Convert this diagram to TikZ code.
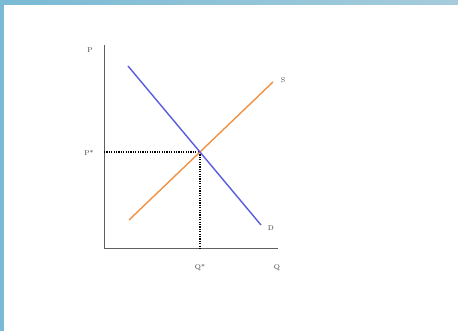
\documentclass[tikz,border=0pt]{standalone}
\usetikzlibrary{calc}
\definecolor{frameL}{RGB}{122,186,212}
\definecolor{frameR}{RGB}{166,204,220}
\definecolor{dcurve}{RGB}{92,92,222}
\definecolor{scurve}{RGB}{240,146,70}
\definecolor{axiscol}{RGB}{95,95,95}
\definecolor{labcol}{RGB}{60,60,60}
\tikzset{
  axisline/.style={draw=axiscol, line width=1pt},
  curveline/.style={line width=1.4pt},
  guide/.style={draw=black, line width=1.3pt, dash pattern=on 1.2pt off 1.2pt},
  lab/.style={text=labcol, font=\fontsize{7}{8}\selectfont, inner sep=0pt}
}
\begin{document}
\begin{tikzpicture}[x=1pt,y=-1pt]
\useasboundingbox (0,0) rectangle (458,331);
\fill[white] (0,0) rectangle (458,331);
\shade[left color=frameL, right color=frameR] (0,0) rectangle (458,5);
\fill[frameL] (0,0) rectangle (4,331);
% axes
\coordinate (O) at (104,249);
\coordinate (Ytop) at (104,45);
\coordinate (Xend) at (278,249);
\draw[axisline] (Ytop) -- (O) -- (Xend);
% curves
\coordinate (D1) at (128,66);
\coordinate (D2) at (261,225);
\coordinate (S1) at (129,220);
\coordinate (S2) at (273,82);
\coordinate (E) at (intersection of D1--D2 and S1--S2);
\coordinate (Py) at (O |- E);
\coordinate (Qx) at (E |- O);
\draw[guide] (Py) -- (E) -- (Qx);
\draw[curveline, scurve] (S1) -- (S2);
\draw[curveline, dcurve] (D1) -- (D2);
% labels
\node[lab] (lP) at (90,50) {P};
\node[lab] (lPs) at (89,153) {P*};
\node[lab] (lS) at (283,80) {S};
\node[lab] (lD) at (271,228) {D};
\node[lab] (lQs) at (200,268) {Q*};
\node[lab] (lQ) at (277,268) {Q};
\end{tikzpicture}
\end{document}
